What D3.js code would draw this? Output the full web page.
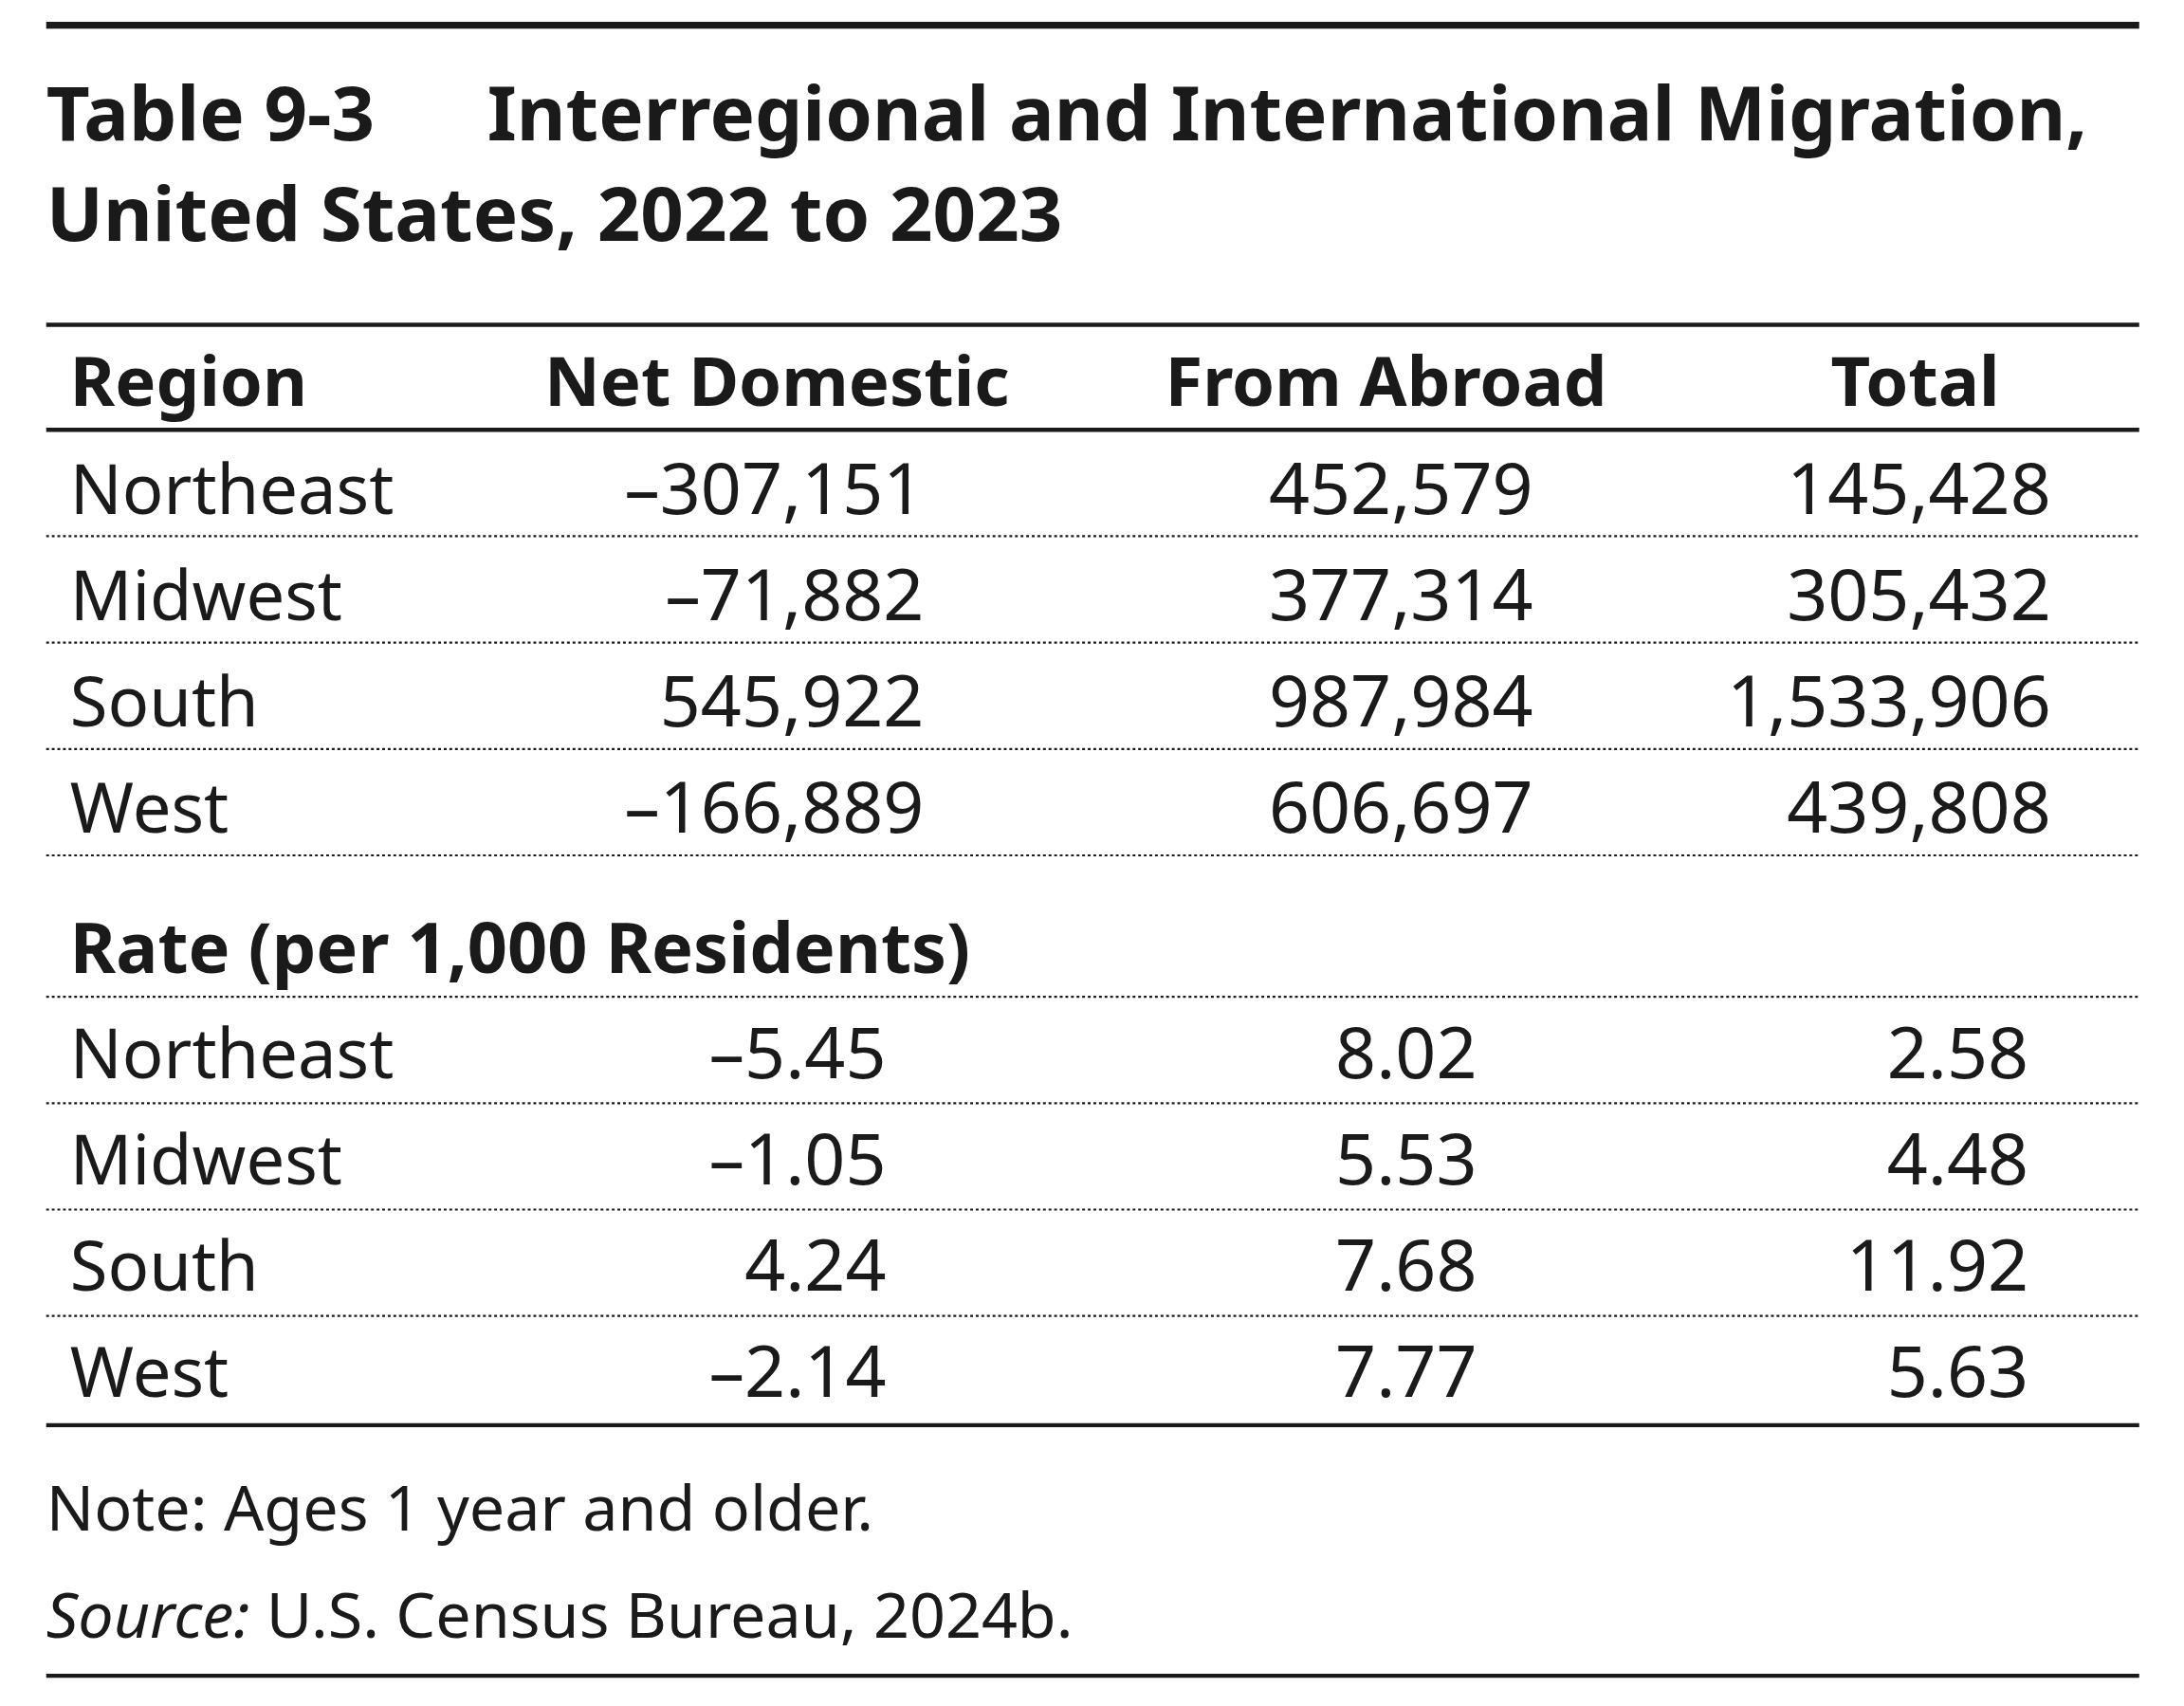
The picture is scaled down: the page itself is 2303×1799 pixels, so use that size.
<!DOCTYPE html>
<html>
<head>
<meta charset="utf-8">
<script src="https://cdn.jsdelivr.net/npm/d3@7"></script>
<style>
  body { margin: 0; background: #fff; }
  text { font-family: "Noto Sans", "Open Sans", sans-serif; fill: #1a1a1a; }
</style>
</head>
<body>
<svg id="chart"></svg>
<script>
// table content
let titleNum = 'Table 9-3';
let titleLines = ['Interregional and International Migration,', 'United States, 2022 to 2023'];
let columns = ['Region', 'Net Domestic', 'From Abroad', 'Total'];
let regions = ['Northeast', 'Midwest', 'South', 'West'];
let netDomestic = ['–307,151', '–71,882', '545,922', '–166,889'];
let fromAbroad = ['452,579', '377,314', '987,984', '606,697'];
let totals = ['145,428', '305,432', '1,533,906', '439,808'];
let rateLabel = 'Rate (per 1,000 Residents)';
let rateNet = ['–5.45', '–1.05', '4.24', '–2.14'];
let rateAbroad = ['8.02', '5.53', '7.68', '7.77'];
let rateTotal = ['2.58', '4.48', '11.92', '5.63'];
let note = 'Note: Ages 1 year and older.';

// layout in base units, scaled to the window
let config = { width: 2303, height: 1799, scale: 2303 / 1560 };
let left = 33, right = 1528;
let labelSize = 49, numSize = 51;

let svg = d3.select('#chart')
  .attr('width', config.width)
  .attr('height', config.height);
let g = svg.append('g').attr('transform', 'scale(' + config.scale + ')');

function rule(y, w, dotted) {
  let l = g.append('line')
    .attr('x1', left).attr('x2', right)
    .attr('y1', y).attr('y2', y)
    .attr('stroke', '#1a1a1a').attr('stroke-width', w);
  if (dotted) l.attr('stroke-dasharray', '2,2');
}

function txt(x, y, s, size, weight, anchor) {
  return g.append('text').attr('x', x).attr('y', y)
    .attr('font-size', size).attr('font-weight', weight || 'normal')
    .attr('text-anchor', anchor || 'start').text(s);
}

// title
rule(18, 5);
txt(left, 100, titleNum, 54, 'bold');
txt(348, 100, titleLines[0], 54, 'bold');
txt(left, 172, titleLines[1], 54, 'bold');

// header
rule(232, 3);
let headX = [50, 555, 990, 1368];
columns.forEach((c, i) => txt(headX[i], 290, c, 49, 'bold', i === 0 ? 'start' : 'middle'));
rule(307, 3);

// counts
let rowY = d3.scaleLinear().domain([0, 1]).range([367, 443]);
regions.forEach((r, i) => {
  let y = rowY(i);
  txt(50, y, r, labelSize);
  txt(660, y, netDomestic[i], numSize, 'normal', 'end');
  txt(1095, y, fromAbroad[i], numSize, 'normal', 'end');
  txt(1465, y, totals[i], numSize, 'normal', 'end');
  rule(y + 16, 1.5, true);
});

// rates
txt(50, 695, rateLabel, 50, 'bold');
rule(712, 1.5, true);
let rateY = d3.scaleLinear().domain([0, 1]).range([770, 846]);
regions.forEach((r, i) => {
  let y = rateY(i);
  txt(50, y, r, labelSize);
  txt(633, y, rateNet[i], numSize, 'normal', 'end');
  txt(1055, y, rateAbroad[i], numSize, 'normal', 'end');
  txt(1449, y, rateTotal[i], numSize, 'normal', 'end');
  if (i < regions.length - 1) rule(y + 18, 1.5, true);
});
rule(1018, 3);

// notes
txt(left, 1093, note, 45);
let src = txt(left, 1170, '', 45);
src.append('tspan').attr('font-style', 'italic').text('Source:');
src.append('tspan').text(' U.S. Census Bureau, 2024b.');
rule(1197, 3);
</script>
</body>
</html>
